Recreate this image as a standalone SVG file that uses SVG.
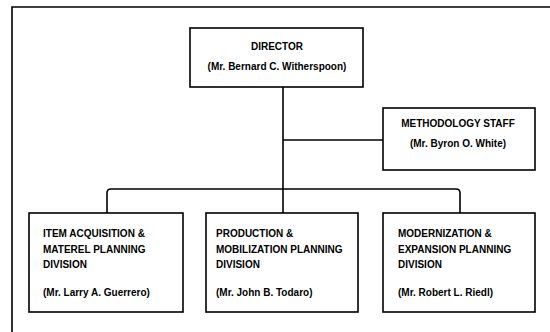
<svg xmlns="http://www.w3.org/2000/svg" width="550" height="332" viewBox="0 0 550 332">
<style>
.box{fill:#fff;stroke:#000;stroke-width:1.6}
.ln{fill:none;stroke:#000;stroke-width:1.6}
text{font-family:"Liberation Sans",Arial,sans-serif;font-weight:bold;font-size:10px;fill:#000}
.c{text-anchor:middle}
</style>
<rect width="550" height="332" fill="#fff"/>
<g id="frame">
<path class="ln" d="M12,332 V7 H550"/>
</g>
<g id="connectors">
<path class="ln" d="M283,87 V189"/>
<path class="ln" d="M283,140 H383"/>
<path class="ln" d="M107,213 V193 Q107,189 111,189 H456 Q460,189 460,193 V213"/>
<path class="ln" d="M283,189 V213"/>
</g>
<g id="director">
<rect class="box" x="190" y="28" width="173" height="59"/>
<text class="c" x="277" y="50">DIRECTOR</text>
<text class="c" x="277" y="70">(Mr. Bernard C. Witherspoon)</text>
</g>
<g id="methodology">
<rect class="box" x="383" y="108" width="152" height="62"/>
<text class="c" x="458" y="127">METHODOLOGY STAFF</text>
<text class="c" x="458" y="147">(Mr. Byron O. White)</text>
</g>
<g id="item">
<rect class="box" x="29" y="213" width="154" height="99"/>
<text x="43" y="237">ITEM ACQUISITION &amp;</text>
<text x="43" y="253">MATEREL PLANNING</text>
<text x="43" y="268">DIVISION</text>
<text x="43" y="296">(Mr. Larry A. Guerrero)</text>
</g>
<g id="production">
<rect class="box" x="206" y="213" width="152" height="99"/>
<text x="216" y="237">PRODUCTION &amp;</text>
<text x="216" y="253">MOBILIZATION PLANNING</text>
<text x="216" y="268">DIVISION</text>
<text x="216" y="296">(Mr. John B. Todaro)</text>
</g>
<g id="modernization">
<rect class="box" x="383" y="213" width="152" height="99"/>
<text x="398" y="237">MODERNIZATION &amp;</text>
<text x="398" y="253">EXPANSION PLANNING</text>
<text x="398" y="268">DIVISION</text>
<text x="398" y="296">(Mr. Robert L. Riedl)</text>
</g>
</svg>
